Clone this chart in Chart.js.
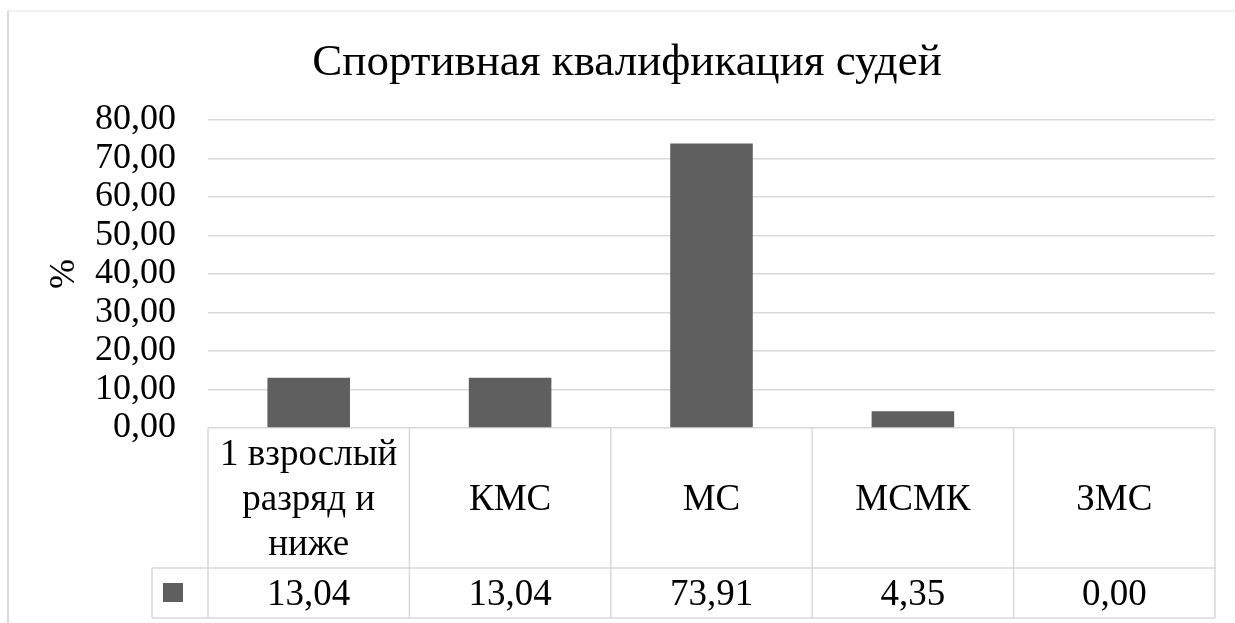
<!DOCTYPE html>
<html>
<head>
<meta charset="utf-8">
<script src="https://cdn.jsdelivr.net/npm/chart.js@4"></script>
<style>
  html, body { margin: 0; padding: 0; background: #fff; }
  #wrap { width: 1235px; height: 623px; position: relative; }
</style>
</head>
<body>
<div id="wrap"><canvas id="chart"></canvas></div>
<script>
// data
const categories = [['1 взрослый', 'разряд и', 'ниже'], 'КМС', 'МС', 'МСМК', 'ЗМС'];
const values = [13.04, 13.04, 73.91, 4.35, 0.00];
const yTicks = [0, 10, 20, 30, 40, 50, 60, 70, 80];

const SERIF = '"Liberation Serif", "Times New Roman", serif';
const GRID = '#d9d9d9';
const BAR = '#5f5f5f';

const fmt = v => v.toFixed(2).replace('.', ',');

// frame + data table under the plot
const tablePlugin = {
  id: 'dataTable',
  beforeDraw(chart) {
    const { ctx, width, height } = chart;
    ctx.save();
    ctx.strokeStyle = '#ececec';
    ctx.lineWidth = 1.5;
    ctx.beginPath();
    ctx.moveTo(8, 11); ctx.lineTo(width, 11);
    ctx.stroke();
    ctx.strokeStyle = GRID;
    ctx.lineWidth = 2;
    ctx.beginPath();
    ctx.moveTo(8, 11); ctx.lineTo(8, height);
    ctx.stroke();
    ctx.restore();
  },
  afterDraw(chart) {
    const { ctx, chartArea: a, scales: { x } } = chart;
    const half = (x.getPixelForValue(1) - x.getPixelForValue(0)) / 2;
    const top = a.bottom;
    const split = top + 140;
    const end = top + 190;
    const keyLeft = a.left - 56;

    ctx.save();
    ctx.strokeStyle = GRID;
    ctx.lineWidth = 1.5;
    ctx.beginPath();
    // horizontal lines
    ctx.moveTo(keyLeft, split); ctx.lineTo(a.right, split);
    ctx.moveTo(keyLeft, end); ctx.lineTo(a.right, end);
    // vertical lines
    ctx.moveTo(keyLeft, split); ctx.lineTo(keyLeft, end);
    for (let i = 0; i < categories.length; i++) {
      const l = x.getPixelForValue(i) - half;
      ctx.moveTo(l, top); ctx.lineTo(l, end);
    }
    ctx.moveTo(a.right, top); ctx.lineTo(a.right, end);
    ctx.stroke();

    // legend key
    ctx.fillStyle = BAR;
    ctx.fillRect(keyLeft + 11, split + 15, 20, 19);

    ctx.fillStyle = '#000';
    ctx.font = '37px ' + SERIF;
    ctx.textAlign = 'center';
    ctx.textBaseline = 'middle';
    categories.forEach((c, i) => {
      const cx = x.getPixelForValue(i);
      const lines = Array.isArray(c) ? c : [c];
      const lh = 45;
      const y0 = (top + split) / 2 - (lines.length - 1) * lh / 2 + 2;
      lines.forEach((t, j) => ctx.fillText(t, cx, y0 + j * lh));
      ctx.fillText(fmt(values[i]), cx, (split + end) / 2 + 2);
    });
    ctx.restore();
  }
};

new Chart(document.getElementById('chart'), {
  type: 'bar',
  data: {
    labels: categories,
    datasets: [{
      label: '%',
      data: values,
      backgroundColor: BAR,
      categoryPercentage: 1,
      barPercentage: 0.41
    }]
  },
  options: {
    responsive: true,
    maintainAspectRatio: false,
    animation: false,
    layout: { padding: { top: 0, left: 39, right: 20, bottom: 195 } },
    plugins: {
      legend: { display: false },
      tooltip: { enabled: false },
      title: {
        display: true,
        text: 'Спортивная квалификация судей',
        color: '#000',
        font: { family: SERIF, size: 45, weight: 'normal', lineHeight: 1.2 },
        padding: { top: 36, bottom: 30 }
      }
    },
    scales: {
      x: { display: false },
      y: {
        min: 0,
        max: 80,
        afterBuildTicks: s => { s.ticks = yTicks.map(v => ({ value: v })); },
        afterFit: s => { s.width = 169; },
        border: { display: false },
        grid: { color: GRID, lineWidth: 1.5, drawTicks: false },
        ticks: {
          autoSkip: false,
          padding: 32,
          color: '#000',
          font: { family: SERIF, size: 36, lineHeight: 1 },
          callback: v => fmt(v)
        },
        title: {
          display: true,
          text: '%',
          color: '#000',
          font: { family: SERIF, size: 36, lineHeight: 1.2 },
          padding: { top: 4, bottom: 0 }
        }
      }
    }
  },
  plugins: [tablePlugin]
});
</script>
</body>
</html>
